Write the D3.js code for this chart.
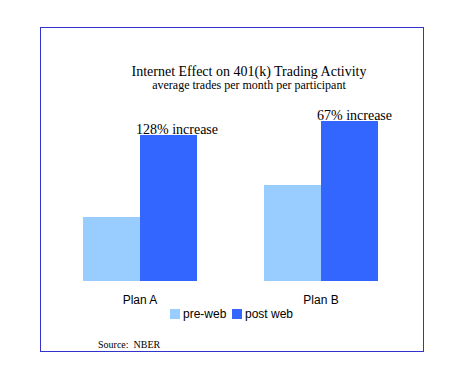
<!DOCTYPE html>
<html>
<head>
<meta charset="utf-8">
<script src="https://cdn.jsdelivr.net/npm/d3@7"></script>
<style>
  body { margin: 0; background: #fff; }
</style>
</head>
<body>
<div id="chart"></div>
<script>
// Data
var plans = ["Plan A", "Plan B"];
var series = ["pre-web", "post web"];
var preWeb = [0.032, 0.048];
var postWeb = [0.073, 0.080];
var increaseLabels = ["128% increase", "67% increase"];

var colors = {"pre-web": "#99ccff", "post web": "#3366ff"};

var W = 457, H = 382;

var svg = d3.select("#chart")
  .append("svg")
    .attr("width", W)
    .attr("height", H);

// frame
svg.append("rect")
  .attr("x", 40.5).attr("y", 27.5)
  .attr("width", 383).attr("height", 324)
  .attr("fill", "none")
  .attr("stroke", "#3333cc")
  .attr("stroke-width", 1);

// Scales
var x = d3.scaleBand()
  .domain(plans)
  .range([49.5, 411.5])
  .paddingInner(0.37)
  .paddingOuter(0.185);

var xs = d3.scaleBand()
  .domain(series)
  .range([0, x.bandwidth()]);

var y = d3.scaleLinear()
  .domain([0, 0.08])
  .range([281, 121]);

var rows = plans.map(function(p, i) {
  return {plan: p, values: [
    {key: "pre-web", v: preWeb[i]},
    {key: "post web", v: postWeb[i]}
  ], label: increaseLabels[i]};
});

var groups = svg.selectAll("g.plan")
  .data(rows)
  .enter().append("g")
    .attr("class", "plan")
    .attr("transform", function(d) { return "translate(" + x(d.plan) + ",0)"; });

groups.selectAll("rect")
  .data(function(d) { return d.values; })
  .enter().append("rect")
    .attr("x", function(d) { return xs(d.key); })
    .attr("y", function(d) { return y(d.v); })
    .attr("width", xs.bandwidth())
    .attr("height", function(d) { return y(0) - y(d.v); })
    .attr("fill", function(d) { return colors[d.key]; });

// increase labels above post-web bars
groups.append("text")
  .attr("x", xs("post web") - 4)
  .attr("y", function(d) { return y(d.values[1].v) - 1; })
  .attr("font-family", "Liberation Serif, serif")
  .attr("font-size", 14)
  .attr("fill", "#000")
  .text(function(d) { return d.label; });

// category axis (no line, no ticks)
var xAxis = d3.axisBottom(x).tickSize(0).tickPadding(14);
var gx = svg.append("g")
  .attr("transform", "translate(0," + y(0) + ")")
  .call(xAxis);
gx.select(".domain").remove();
gx.selectAll("text")
  .attr("font-family", "Liberation Sans, Arial, sans-serif")
  .attr("font-size", 12)
  .attr("fill", "#000");

// Titles
svg.append("text")
  .attr("x", 249).attr("y", 76)
  .attr("text-anchor", "middle")
  .attr("font-family", "Liberation Serif, serif")
  .attr("font-size", 14)
  .text("Internet Effect on 401(k) Trading Activity");

svg.append("text")
  .attr("x", 249).attr("y", 89)
  .attr("text-anchor", "middle")
  .attr("font-family", "Liberation Serif, serif")
  .attr("font-size", 12)
  .text("average trades per month per participant");

// Legend
var legend = svg.append("g").attr("transform", "translate(170,309)");
var lx = [0, 62];
series.forEach(function(s, i) {
  legend.append("rect")
    .attr("x", lx[i]).attr("y", 0)
    .attr("width", 10).attr("height", 10)
    .attr("fill", colors[s]);
  legend.append("text")
    .attr("x", lx[i] + 13).attr("y", 9)
    .attr("font-family", "Liberation Sans, Arial, sans-serif")
    .attr("font-size", 12)
    .text(s);
});

// Source
svg.append("text")
  .attr("x", 98).attr("y", 348)
  .attr("font-family", "Liberation Serif, serif")
  .attr("font-size", 10)
  .attr("xml:space", "preserve")
  .style("white-space", "pre")
  .text("Source:  NBER");
</script>
</body>
</html>
